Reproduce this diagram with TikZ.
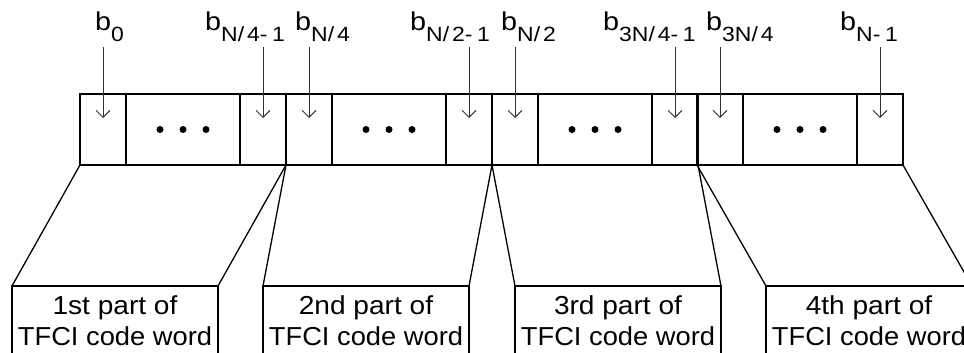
\documentclass[tikz,border=0pt]{standalone}
\usepackage{fontspec}
\setmainfont{Liberation Sans}
\usetikzlibrary{arrows.meta}
\newcommand{\blab}[1]{\scalebox{1.15}[1.03]{b\raisebox{-10.5pt}{\fontsize{20}{22}\selectfont #1}}}
\newcommand{\ga}{\kern2.5pt}
\newcommand{\gb}{\kern4pt}
\begin{document}
\begin{tikzpicture}[x=1pt,y=-1pt,
  cellbox/.style={draw,line width=1.1pt,rectangle,inner sep=0pt,outer sep=0pt,minimum height=71pt,anchor=north west},
  groupbox/.style={draw,line width=2pt,rectangle,inner sep=0pt,outer sep=0pt,minimum width=206pt,minimum height=71pt,anchor=north west},
  partbox/.style={draw,line width=2pt,rectangle,inner sep=0pt,outer sep=0pt,minimum width=206pt,minimum height=100pt,anchor=north west},
  bitlabel/.style={anchor=base west,inner sep=0pt,font=\fontsize{25}{30}\selectfont},
  parttext/.style={anchor=base,inner sep=0pt,font=\fontsize{26}{30}\selectfont},
  bitarrow/.style={draw=black!80,line width=0.9pt,-{Straight Barb[length=7pt,width=14pt,line width=0.9pt]}},
  funnel/.style={line width=1.3pt},
  dot/.style={fill=black,draw=none}]
\useasboundingbox (0,0) rectangle (964,353);
\clip (0,0) rectangle (964,353);
% cells
\foreach \g/\x in {1/80,2/286,3/492,4/697}{
  \node[cellbox,minimum width=46pt] (c\g a) at (\x,94) {};
  \node[cellbox,minimum width=114pt] (c\g b) at (\x+46,94) {};
  \node[cellbox,minimum width=46pt] (c\g c) at (\x+160,94) {};
  \node[groupbox] (g\g) at (\x,94) {};
  \fill[dot] (c\g b.center) ++(-23,0) circle (3.5pt);
  \fill[dot] (c\g b.center) circle (3.5pt);
  \fill[dot] (c\g b.center) ++(23,0) circle (3.5pt);
}
% labels
\node[bitlabel] (l1) at (95,31) {\blab{0}};
\node[bitlabel] (l2) at (205,31) {\blab{N/\ga 4-\gb 1}};
\node[bitlabel] (l3) at (295,31) {\blab{N/\ga 4}};
\node[bitlabel] (l4) at (410,31) {\blab{N/\ga 2-\gb 1}};
\node[bitlabel] (l5) at (501,31) {\blab{N/\ga 2}};
\node[bitlabel] (l6) at (603,31) {\blab{3N/\ga 4-\gb 1}};
\node[bitlabel] (l7) at (706,31) {\blab{3N/\ga 4}};
\node[bitlabel] (l8) at (840,31) {\blab{N-\gb 1}};
% arrows
\foreach \c in {c1a,c1c,c2a,c2c,c3a,c3c,c4a,c4c}{
  \coordinate (s\c) at (\c.center |- 0,47);
  \coordinate (e\c) at (\c.center |- 0,118);
  \draw[bitarrow] (s\c) -- (e\c);
}
% part boxes
\node[partbox] (p1) at (12,286) {};
\node[partbox] (p2) at (263,286) {};
\node[partbox] (p3) at (515,286) {};
\node[partbox] (p4) at (766,286) {};
\foreach \i/\t in {1/1st,2/2nd,3/3rd,4/4th}{
  \node[parttext] (t\i a) at (p\i.north |- 0,314) {\scalebox{1.08}[1]{\t\ part of}};
  \node[parttext] (t\i b) at (p\i.north |- 0,345) {\scalebox{1.05}[1]{TFCI code word}};
}
% funnels
\draw[funnel] (g1.south west) -- (p1.north west);
\draw[funnel] (g1.south east) -- (p1.north east);
\draw[funnel] (g2.south west) -- (p2.north west);
\draw[funnel] (g2.south east) -- (p2.north east);
\draw[funnel] (g3.south west) -- (p3.north west);
\draw[funnel] (g3.south east) -- (p3.north east);
\draw[funnel] (g4.south west) -- (p4.north west);
\draw[funnel] (g4.south east) -- (p4.north east);
\end{tikzpicture}
\end{document}
